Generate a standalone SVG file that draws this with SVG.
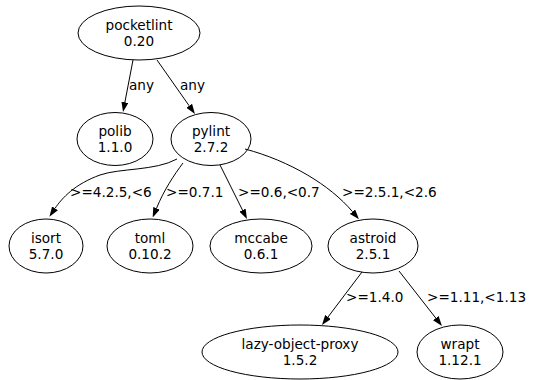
<svg xmlns="http://www.w3.org/2000/svg" width="533" height="380" viewBox="0 0 533 380">
<style>
.n ellipse{fill:none;stroke:#000;stroke-width:1}
.n text{font-family:"DejaVu Sans",sans-serif;font-size:13.6px;text-anchor:middle;fill:#000}
.e path{fill:none;stroke:#000;stroke-width:1}
.e text{font-family:"DejaVu Sans",sans-serif;font-size:13.6px;fill:#000}
</style>
<defs>
<marker id="ah" markerUnits="userSpaceOnUse" markerWidth="10" markerHeight="7" refX="0" refY="3.5" orient="auto">
<path d="M0,0 L10,3.5 L0,7 z" fill="#000"/>
</marker>
</defs>
<rect width="533" height="380" fill="#fff"/>
<g id="connectors" class="e">
<path d="M133,60 L124.9,102.2" marker-end="url(#ah)"/>
<text x="129" y="90">any</text>
<path d="M157,60 L189.2,105.8" marker-end="url(#ah)"/>
<text x="180" y="90">any</text>
<path d="M177,159 C155,171 120,168 100,175 C75,184 62,198 55,208.4" marker-end="url(#ah)"/>
<text x="70" y="197">&gt;=4.2.5,&lt;6</text>
<path d="M183,163 C174,175 164,190 156.5,208.3" marker-end="url(#ah)"/>
<text x="166" y="197">&gt;=0.7.1</text>
<path d="M220,165 L242.5,210.1" marker-end="url(#ah)"/>
<text x="238" y="197">&gt;=0.6,&lt;0.7</text>
<path d="M245,149 C290,161 330,185 352.5,211.7" marker-end="url(#ah)"/>
<text x="342" y="197">&gt;=2.5.1,&lt;2.6</text>
<path d="M362,272 L328,317" marker-end="url(#ah)"/>
<text x="346" y="302">&gt;=1.4.0</text>
<path d="M399,271 L435.8,318.1" marker-end="url(#ah)"/>
<text x="427" y="302">&gt;=1.11,&lt;1.13</text>
</g>
<g id="pocketlint" class="n"><ellipse cx="139" cy="33" rx="61" ry="27"/><text x="139" y="29.5">pocketlint</text><text x="139" y="45.5">0.20</text></g>
<g id="polib" class="n"><ellipse cx="115" cy="139" rx="38" ry="26.5"/><text x="115" y="135.5">polib</text><text x="115" y="151.5">1.1.0</text></g>
<g id="pylint" class="n"><ellipse cx="211" cy="139" rx="40" ry="26.5"/><text x="211" y="135.5">pylint</text><text x="211" y="151.5">2.7.2</text></g>
<g id="isort" class="n"><ellipse cx="46" cy="246" rx="37" ry="27"/><text x="46" y="242.5">isort</text><text x="46" y="258.5">5.7.0</text></g>
<g id="toml" class="n"><ellipse cx="150" cy="246" rx="43" ry="27"/><text x="150" y="242.5">toml</text><text x="150" y="258.5">0.10.2</text></g>
<g id="mccabe" class="n"><ellipse cx="261" cy="246" rx="51" ry="27"/><text x="261" y="242.5">mccabe</text><text x="261" y="258.5">0.6.1</text></g>
<g id="astroid" class="n"><ellipse cx="373" cy="246" rx="45" ry="27"/><text x="373" y="242.5">astroid</text><text x="373" y="258.5">2.5.1</text></g>
<g id="lazy-object-proxy" class="n"><ellipse cx="300" cy="352" rx="98" ry="27"/><text x="300" y="348.5">lazy-object-proxy</text><text x="300" y="364.5">1.5.2</text></g>
<g id="wrapt" class="n"><ellipse cx="460" cy="352" rx="43" ry="27"/><text x="460" y="348.5">wrapt</text><text x="460" y="364.5">1.12.1</text></g>
</svg>
